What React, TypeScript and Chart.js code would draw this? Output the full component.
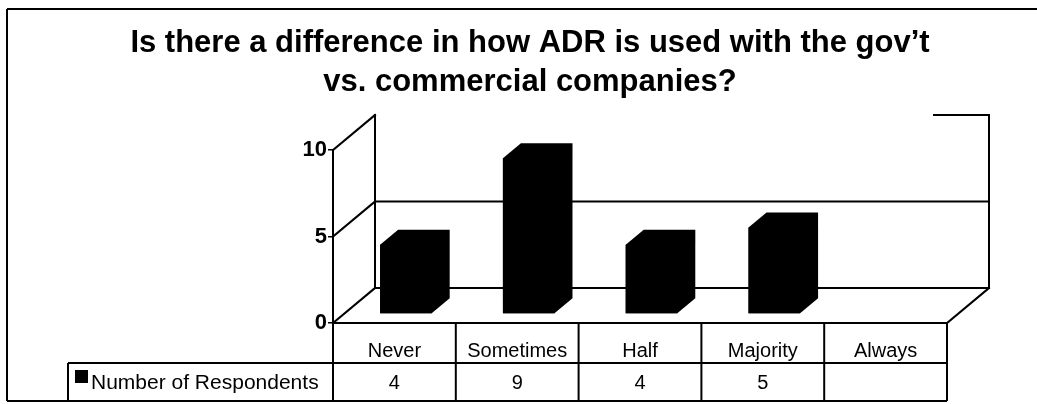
import React, { useEffect, useRef } from 'react';
import { Chart, registerables } from 'chart.js';

Chart.register(...registerables);

const titleLines = ['Is there a difference in how ADR is used with the gov\u2019t', 'vs. commercial companies?'];
const categories = ['Never', 'Sometimes', 'Half', 'Majority', 'Always'];
const seriesLabel = 'Number of Respondents';
const respondents: (number | null)[] = [4, 9, 4, 5, null];
const yMin = 0;
const yMax = 10;
const yStep = 5;

const FONT = '"Liberation Sans", Arial, Helvetica, sans-serif';

// 3D geometry (pixels)
const WALL_DX = 42;
const WALL_DY = -35;
const BAR_SHIFT_X = 11.5;
const BAR_SHIFT_Y = -9;
const BAR_DX = 18;
const BAR_DY = -15;

const threeDPlugin = {
  id: 'threeD',
  beforeDatasetsDraw(chart: any) {
    const { ctx, chartArea, scales } = chart;
    const y = scales.y;
    const L = chartArea.left;
    const R = chartArea.right;
    const B = y.getPixelForValue(yMin);
    const T = y.getPixelForValue(yMax);
    ctx.save();
    ctx.strokeStyle = '#000';
    ctx.lineWidth = 2;
    ctx.lineCap = 'square';
    const line = (x1: number, y1: number, x2: number, y2: number) => {
      ctx.beginPath();
      ctx.moveTo(x1, y1);
      ctx.lineTo(x2, y2);
      ctx.stroke();
    };
    // back wall
    line(L + WALL_DX, T + WALL_DY, L + WALL_DX, B + WALL_DY);
    line(R + WALL_DX, T + WALL_DY, R + WALL_DX, B + WALL_DY);
    line(R + WALL_DX - 55, T + WALL_DY, R + WALL_DX, T + WALL_DY);
    // gridlines on back wall + obliques from ticks
    y.ticks.forEach((t: any) => {
      const py = y.getPixelForValue(t.value);
      line(L, py, L + WALL_DX, py + WALL_DY);
      if (t.value < yMax) line(L + WALL_DX, py + WALL_DY, R + WALL_DX, py + WALL_DY);
    });
    // floor
    line(L, B, R, B);
    line(R, B, R + WALL_DX, B + WALL_DY);
    ctx.restore();
    // shift the bars to mid-depth
    ctx.save();
    ctx.translate(BAR_SHIFT_X, BAR_SHIFT_Y);
  },
  afterDatasetsDraw(chart: any) {
    const { ctx } = chart;
    const meta = chart.getDatasetMeta(0);
    ctx.fillStyle = '#000';
    meta.data.forEach((bar: any, i: number) => {
      if (respondents[i] == null) return;
      const { x, y, base, width } = bar.getProps(['x', 'y', 'base', 'width'], true);
      const l = x - width / 2;
      const r = x + width / 2;
      // whole silhouette (front + top + side) so no seams appear
      ctx.beginPath();
      ctx.moveTo(l, base);
      ctx.lineTo(l, y);
      ctx.lineTo(l + BAR_DX, y + BAR_DY);
      ctx.lineTo(r + BAR_DX, y + BAR_DY);
      ctx.lineTo(r + BAR_DX, base + BAR_DY);
      ctx.lineTo(r, base);
      ctx.closePath();
      ctx.fill();
    });
    ctx.restore();
  },
  afterDraw(chart: any) {
    const { ctx, chartArea, scales } = chart;
    const x = scales.x;
    const B = chartArea.bottom;
    const rowTop = B + 40;
    const rowBottom = rowTop + 38;
    const L = chartArea.left;
    const R = chartArea.right;
    const tableLeft = 68;
    ctx.save();
    ctx.strokeStyle = '#000';
    ctx.lineWidth = 2;
    const line = (x1: number, y1: number, x2: number, y2: number) => {
      ctx.beginPath();
      ctx.moveTo(x1, y1);
      ctx.lineTo(x2, y2);
      ctx.stroke();
    };
    // outer frame
    line(7, 9, chart.width, 9);
    line(7, 9, 7, rowBottom);
    line(7, rowBottom, R, rowBottom);
    // table
    line(tableLeft, rowTop, R, rowTop);
    line(tableLeft, rowTop, tableLeft, rowBottom);
    line(L, B, L, rowBottom);
    const half = (x.getPixelForValue(1) - x.getPixelForValue(0)) / 2;
    categories.forEach((_c, i) => {
      const cx = x.getPixelForValue(i);
      line(cx + half, B, cx + half, rowBottom);
    });
    // legend key + label
    ctx.fillStyle = '#000';
    ctx.fillRect(75, rowTop + 7, 13, 13);
    ctx.font = `21px ${FONT}`;
    ctx.textBaseline = 'middle';
    ctx.textAlign = 'left';
    ctx.fillText(seriesLabel, 91, (rowTop + rowBottom) / 2 + 1);
    // data values
    ctx.font = `20px ${FONT}`;
    ctx.textAlign = 'center';
    respondents.forEach((v, i) => {
      if (v == null) return;
      ctx.fillText(String(v), x.getPixelForValue(i), (rowTop + rowBottom) / 2 + 1);
    });
    ctx.restore();
  },
};

export default function App() {
  const ref = useRef<HTMLCanvasElement>(null);
  useEffect(() => {
    document.body.style.margin = '0';
    const chart = new Chart(ref.current!, {
      type: 'bar',
      data: {
        labels: categories,
        datasets: [
          {
            label: seriesLabel,
            data: respondents as any,
            backgroundColor: '#000',
            borderWidth: 0,
            barPercentage: 0.42,
            categoryPercentage: 1,
            clip: false as any,
          },
        ],
      },
      options: {
        responsive: false,
        animation: false,
        devicePixelRatio: 1,
        layout: { padding: { top: 8, left: 113, right: 90, bottom: 41 } },
        plugins: {
          legend: { display: false },
          tooltip: { enabled: false },
          title: {
            display: true,
            text: titleLines,
            color: '#000',
            font: { family: FONT, size: 31, weight: 'bold', lineHeight: 39 / 31 },
            padding: { top: 15.5, bottom: 48.5 },
          },
        },
        scales: {
          x: {
            grid: { display: false },
            border: { display: false },
            ticks: {
              color: '#000',
              font: { family: FONT, size: 20 },
              padding: 8,
              maxRotation: 0,
              autoSkip: false,
            },
            afterFit: (s: any) => {
              s.height = 40;
            },
          },
          y: {
            min: yMin,
            max: yMax,
            ticks: {
              stepSize: yStep,
              color: '#000',
              font: { family: FONT, size: 22, weight: 'bold' },
              padding: 1,
            },
            grid: {
              drawOnChartArea: false,
              drawTicks: true,
              tickLength: 5,
              color: '#000',
              lineWidth: 1.5,
            },
            border: { display: true, color: '#000', width: 2 },
            afterFit: (s: any) => {
              s.width = 220;
            },
          },
        },
      },
      plugins: [threeDPlugin],
    });
    return () => chart.destroy();
  }, []);
  return (
    <div style={{ width: 1037, height: 404 }}>
      <canvas ref={ref} width={1037} height={404} style={{ display: 'block' }} />
    </div>
  );
}
